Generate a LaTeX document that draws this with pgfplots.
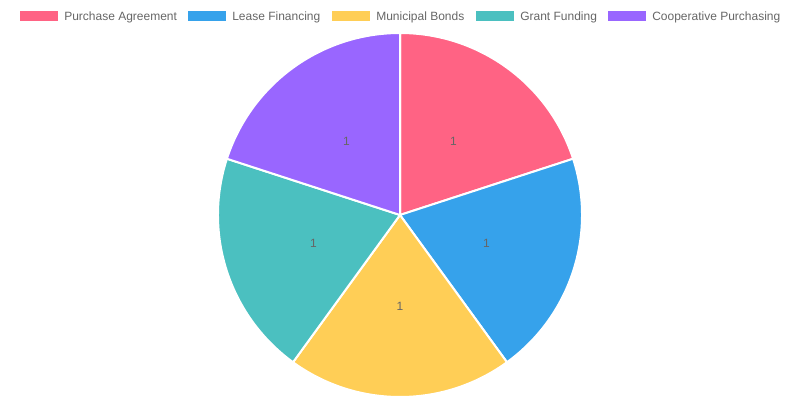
\documentclass[border=0pt]{standalone}
\usepackage{pgfplots}
\usepackage{pgfplotstable}
\pgfplotsset{compat=1.18}
\usepackage{fontspec}
\setmainfont{Liberation Sans}
\definecolor{textgrey}{HTML}{666666}
\definecolor{cA}{HTML}{FF6384}
\definecolor{cB}{HTML}{36A2EB}
\definecolor{cC}{HTML}{FFCE56}
\definecolor{cD}{HTML}{4BC0C0}
\definecolor{cE}{HTML}{9966FF}

\pgfplotstableread[col sep=comma]{
name,value,color,boxx
Purchase Agreement,1,cA,20
Lease Financing,1,cB,188
Municipal Bonds,1,cC,332
Grant Funding,1,cD,476
Cooperative Purchasing,1,cE,608
}\piedata

% totals and angles from the table
\xdef\total{0}
\foreach \i in {0,...,4}{%
  \pgfplotstablegetelem{\i}{value}\of\piedata
  \pgfmathparse{\total+\pgfplotsretval}\xdef\total{\pgfmathresult}}
\xdef\cum{0}
\foreach \i in {0,...,4}{%
  \pgfplotstablegetelem{\i}{value}\of\piedata
  \xdef\v{\pgfplotsretval}%
  \expandafter\xdef\csname val\i\endcsname{\v}%
  \pgfmathparse{90-360*\cum/\total}\expandafter\xdef\csname sa\i\endcsname{\pgfmathresult}%
  \pgfmathparse{\cum+\v}\xdef\cum{\pgfmathresult}%
  \pgfmathparse{90-360*\cum/\total}\expandafter\xdef\csname ea\i\endcsname{\pgfmathresult}%
  \pgfmathparse{(\csname sa\i\endcsname+\csname ea\i\endcsname)/2}\expandafter\xdef\csname ma\i\endcsname{\pgfmathresult}%
  \pgfplotstablegetelem{\i}{color}\of\piedata
  \xglobal\colorlet{sl\i}{\pgfplotsretval}%
  \pgfplotstablegetelem{\i}{name}\of\piedata
  \expandafter\xdef\csname nm\i\endcsname{\pgfplotsretval}%
  \pgfplotstablegetelem{\i}{boxx}\of\piedata
  \expandafter\xdef\csname bx\i\endcsname{\pgfplotsretval}%
}

\begin{document}
\begin{tikzpicture}[font=\fontsize{9pt}{11pt}\selectfont]
\begin{axis}[
  at={(0,0)}, anchor=origin,
  scale only axis, x=0.75pt, y=0.75pt,
  xmin=0, xmax=800, ymin=0, ymax=400,
  hide axis, clip=false]
\path (axis cs:0,0) rectangle (axis cs:800,400);
\pgfplotsinvokeforeach{0,...,4}{
  \fill[fill=sl#1, draw=white, line width=1.5pt, line join=round]
    (axis cs:400,185) -- ++(\csname sa#1\endcsname:136.5pt)
    arc[start angle=\csname sa#1\endcsname, end angle=\csname ea#1\endcsname, radius=136.5pt] -- cycle;
}
\pgfplotsinvokeforeach{0,...,4}{
  \path (axis cs:400,185) ++(\csname ma#1\endcsname:68.25pt)
    node[text=textgrey, inner sep=0pt] {\csname val#1\endcsname};
  \fill[sl#1] (axis cs:\csname bx#1\endcsname,389) rectangle (axis cs:{\csname bx#1\endcsname+38},379);
  \node[anchor=base west, inner sep=0pt, text=textgrey] at (axis cs:{\csname bx#1\endcsname+44},379.6) {\csname nm#1\endcsname};
}
\end{axis}
\end{tikzpicture}
\end{document}
